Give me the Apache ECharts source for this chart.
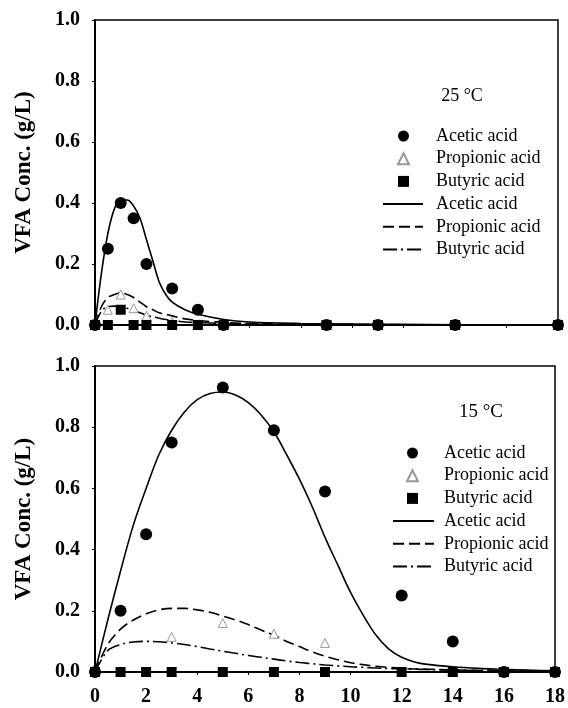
<!DOCTYPE html>
<html>
<head>
<meta charset="utf-8">
<script src="https://cdn.jsdelivr.net/npm/echarts@6/dist/echarts.min.js"></script>
<style>
  html, body { margin: 0; padding: 0; background: #fff; }
  #chart { width: 568px; height: 708px; }
</style>
</head>
<body>
<div id="chart"></div>
<script>
// measured points, 25 °C
const time25 = [0, 0.5, 1, 1.5, 2, 3, 4, 5, 9, 11, 14, 18]
const acetic25 = [0, 0.25, 0.40, 0.35, 0.20, 0.12, 0.05, 0, 0, 0, 0, 0]
const propionic25 = [0, 0.05, 0.10, 0.055, 0.03, 0.01, 0, 0, 0, 0, 0, 0]
const butyric25 = [0, 0, 0.05, 0, 0, 0, 0, 0, 0, 0, 0, 0]

// model curves, 25 °C
const fitX25 = [0, 0.25, 0.5, 0.75, 1, 1.25, 1.5, 1.75, 2, 2.25, 2.5, 2.75, 3, 3.5, 4, 5, 6, 8, 10, 12, 14, 16, 18]
const aceticFit25 = [0, 0.17, 0.30, 0.38, 0.41, 0.41, 0.39, 0.35, 0.28, 0.21, 0.14, 0.10, 0.075, 0.05, 0.035, 0.018, 0.01, 0.005, 0.003, 0.002, 0.001, 0.001, 0]
const propionicFit25 = [0, 0.06, 0.09, 0.10, 0.105, 0.10, 0.09, 0.075, 0.06, 0.05, 0.04, 0.035, 0.03, 0.02, 0.015, 0.008, 0.005, 0.003, 0.002, 0.001, 0.001, 0, 0]
const butyricFit25 = [0, 0.045, 0.06, 0.062, 0.06, 0.055, 0.045, 0.04, 0.032, 0.027, 0.022, 0.018, 0.015, 0.01, 0.008, 0.005, 0.003, 0.002, 0.001, 0.001, 0, 0, 0]

// measured points, 15 °C
const time15 = [0, 1, 2, 3, 5, 7, 9, 12, 14, 16, 18]
const acetic15 = [0, 0.20, 0.45, 0.75, 0.93, 0.79, 0.59, 0.25, 0.10, 0, 0]
const propionic15 = [0, 0, 0, 0.115, 0.16, 0.125, 0.095, 0, 0, 0, 0]
const butyric15 = [0, 0, 0, 0, 0, 0, 0, 0, 0, 0, 0]

// model curves, 15 °C
const fitX15 = [0, 0.5, 1, 1.5, 2, 2.5, 3, 3.5, 4, 4.5, 5, 5.5, 6, 6.5, 7, 7.5, 8, 8.5, 9, 9.5, 10, 10.5, 11, 11.5, 12, 12.5, 13, 14, 15, 16, 17, 18]
const aceticFit15 = [0, 0.17, 0.33, 0.48, 0.60, 0.71, 0.79, 0.85, 0.89, 0.91, 0.915, 0.905, 0.88, 0.84, 0.785, 0.71, 0.63, 0.54, 0.44, 0.35, 0.26, 0.185, 0.12, 0.075, 0.048, 0.033, 0.025, 0.017, 0.012, 0.009, 0.006, 0.004]
const propionicFit15 = [0, 0.09, 0.14, 0.17, 0.19, 0.203, 0.208, 0.208, 0.203, 0.195, 0.183, 0.17, 0.155, 0.137, 0.12, 0.10, 0.083, 0.066, 0.052, 0.04, 0.03, 0.024, 0.019, 0.015, 0.012, 0.01, 0.009, 0.007, 0.005, 0.004, 0.003, 0.002]
const butyricFit15 = [0, 0.07, 0.09, 0.098, 0.10, 0.099, 0.095, 0.09, 0.083, 0.075, 0.068, 0.061, 0.054, 0.048, 0.042, 0.036, 0.031, 0.027, 0.023, 0.02, 0.017, 0.015, 0.013, 0.011, 0.01, 0.009, 0.008, 0.006, 0.005, 0.004, 0.003, 0.002]

const yTicks = [0, 0.2, 0.4, 0.6, 0.8, 1.0]
const xTicks = [0, 2, 4, 6, 8, 10, 12, 14, 16, 18]
const panels = ['25 °C', '15 °C']
const acids = ['Acetic acid', 'Propionic acid', 'Butyric acid']

const FONT = '"Liberation Serif", "Times New Roman", serif'
const FIT = ' (model)'

const zip = (xs, ys) => xs.map((x, i) => [x, ys[i]])

const chart = echarts.init(document.getElementById('chart'))

const grids = [
  { left: 95, top: 20, width: 463, height: 305 },
  { left: 95, top: 366, width: 463, height: 306 },
]

const xAxis = grids.map((g, i) => ({
  type: 'value',
  gridIndex: i,
  min: xTicks[0],
  max: xTicks[xTicks.length - 1],
  interval: 2,
  axisLine: { lineStyle: { color: '#000', width: 2 } },
  axisTick: { show: true, inside: false, length: 3, lineStyle: { color: '#000' } },
  axisLabel: {
    show: i === 1,
    color: '#000',
    fontFamily: FONT,
    fontWeight: 'bold',
    fontSize: 20,
    margin: 15,
  },
  splitLine: { show: false },
}))

const yAxis = grids.map((g, i) => ({
  type: 'value',
  gridIndex: i,
  min: yTicks[0],
  max: yTicks[yTicks.length - 1],
  interval: 0.2,
  name: 'VFA Conc. (g/L)',
  nameLocation: 'middle',
  nameRotate: 90,
  nameGap: 59,
  nameTextStyle: { color: '#000', fontFamily: FONT, fontWeight: 'bold', fontSize: 23 },
  axisLine: { lineStyle: { color: '#000', width: 2 } },
  axisTick: { show: true, inside: false, length: 3, lineStyle: { color: '#000' } },
  axisLabel: {
    color: '#000',
    fontFamily: FONT,
    fontWeight: 'bold',
    fontSize: 20,
    margin: 15,
    formatter: v => v.toFixed(1),
  },
  splitLine: { show: false },
}))

const dotSeries = (name, data, idx, symbol) => ({
  name,
  type: 'scatter',
  xAxisIndex: idx,
  yAxisIndex: idx,
  data,
  symbol,
  symbolSize: symbol === 'triangle' ? 9 : symbol === 'rect' ? 10 : 12,
  itemStyle: symbol === 'triangle'
    ? { color: '#fff', borderColor: '#999', borderWidth: 1, opacity: 1 }
    : { color: '#000', opacity: 1 },
  z: symbol === 'circle' ? 5 : symbol === 'rect' ? 4 : 3,
})

const lineSeries = (name, data, idx, type) => ({
  name: name + FIT,
  type: 'line',
  xAxisIndex: idx,
  yAxisIndex: idx,
  data,
  smooth: 0.35,
  symbol: 'none',
  lineStyle: { color: '#000', width: 1.6, type },
  itemStyle: { color: 'rgba(0,0,0,0)' },
  z: 2,
})

const dashed = [11, 5]
const dashDot = [14, 4, 2, 4]

const series = [
  lineSeries(acids[0], zip(fitX25, aceticFit25), 0, 'solid'),
  lineSeries(acids[1], zip(fitX25, propionicFit25), 0, dashed),
  lineSeries(acids[2], zip(fitX25, butyricFit25), 0, dashDot),
  dotSeries(acids[0], zip(time25, acetic25), 0, 'circle'),
  dotSeries(acids[1], zip(time25, propionic25), 0, 'triangle'),
  dotSeries(acids[2], zip(time25, butyric25), 0, 'rect'),

  lineSeries(acids[0], zip(fitX15, aceticFit15), 1, 'solid'),
  lineSeries(acids[1], zip(fitX15, propionicFit15), 1, dashed),
  lineSeries(acids[2], zip(fitX15, butyricFit15), 1, dashDot),
  dotSeries(acids[0], zip(time15, acetic15), 1, 'circle'),
  dotSeries(acids[1], zip(time15, propionic15), 1, 'triangle'),
  dotSeries(acids[2], zip(time15, butyric15), 1, 'rect'),
]

const ROW = 22.7

// markers and curves get separate legends so the symbols keep their own size
const legendBox = (names, left, top, iconW, textPad, extra) => Object.assign({
  orient: 'vertical',
  left,
  top,
  data: names,
  itemWidth: iconW,
  itemHeight: 11,
  itemGap: ROW - 18,
  selectedMode: false,
  formatter: n => n.replace(FIT, ''),
  textStyle: { color: '#000', fontFamily: FONT, fontSize: 18, lineHeight: 18, padding: [0, 0, 0, textPad] },
}, extra)

const fitNames = acids.map(a => a + FIT)
const noDot = { itemStyle: { color: 'rgba(0,0,0,0)', borderWidth: 0 } }

chart.setOption({
  backgroundColor: '#fff',
  animation: false,
  title: [
    { text: panels[0], left: 457, top: 82, textAlign: 'center',
      textStyle: { color: '#000', fontFamily: FONT, fontWeight: 'normal', fontSize: 18 } },
    { text: panels[1], left: 476, top: 398, textAlign: 'center',
      textStyle: { color: '#000', fontFamily: FONT, fontWeight: 'normal', fontSize: 19 } },
  ],
  legend: [
    legendBox(acids, 392, 122, 11, 22),
    legendBox(fitNames, 377, 122 + 3 * ROW, 40, 8, noDot),
    legendBox(acids, 401, 439, 11, 21),
    legendBox(fitNames, 387, 439 + 3 * ROW, 41, 5, noDot),
  ],
  grid: grids.map(g => Object.assign({ show: true, borderColor: '#000', borderWidth: 1.5 }, g)),
  xAxis,
  yAxis,
  series,
})
</script>
</body>
</html>
